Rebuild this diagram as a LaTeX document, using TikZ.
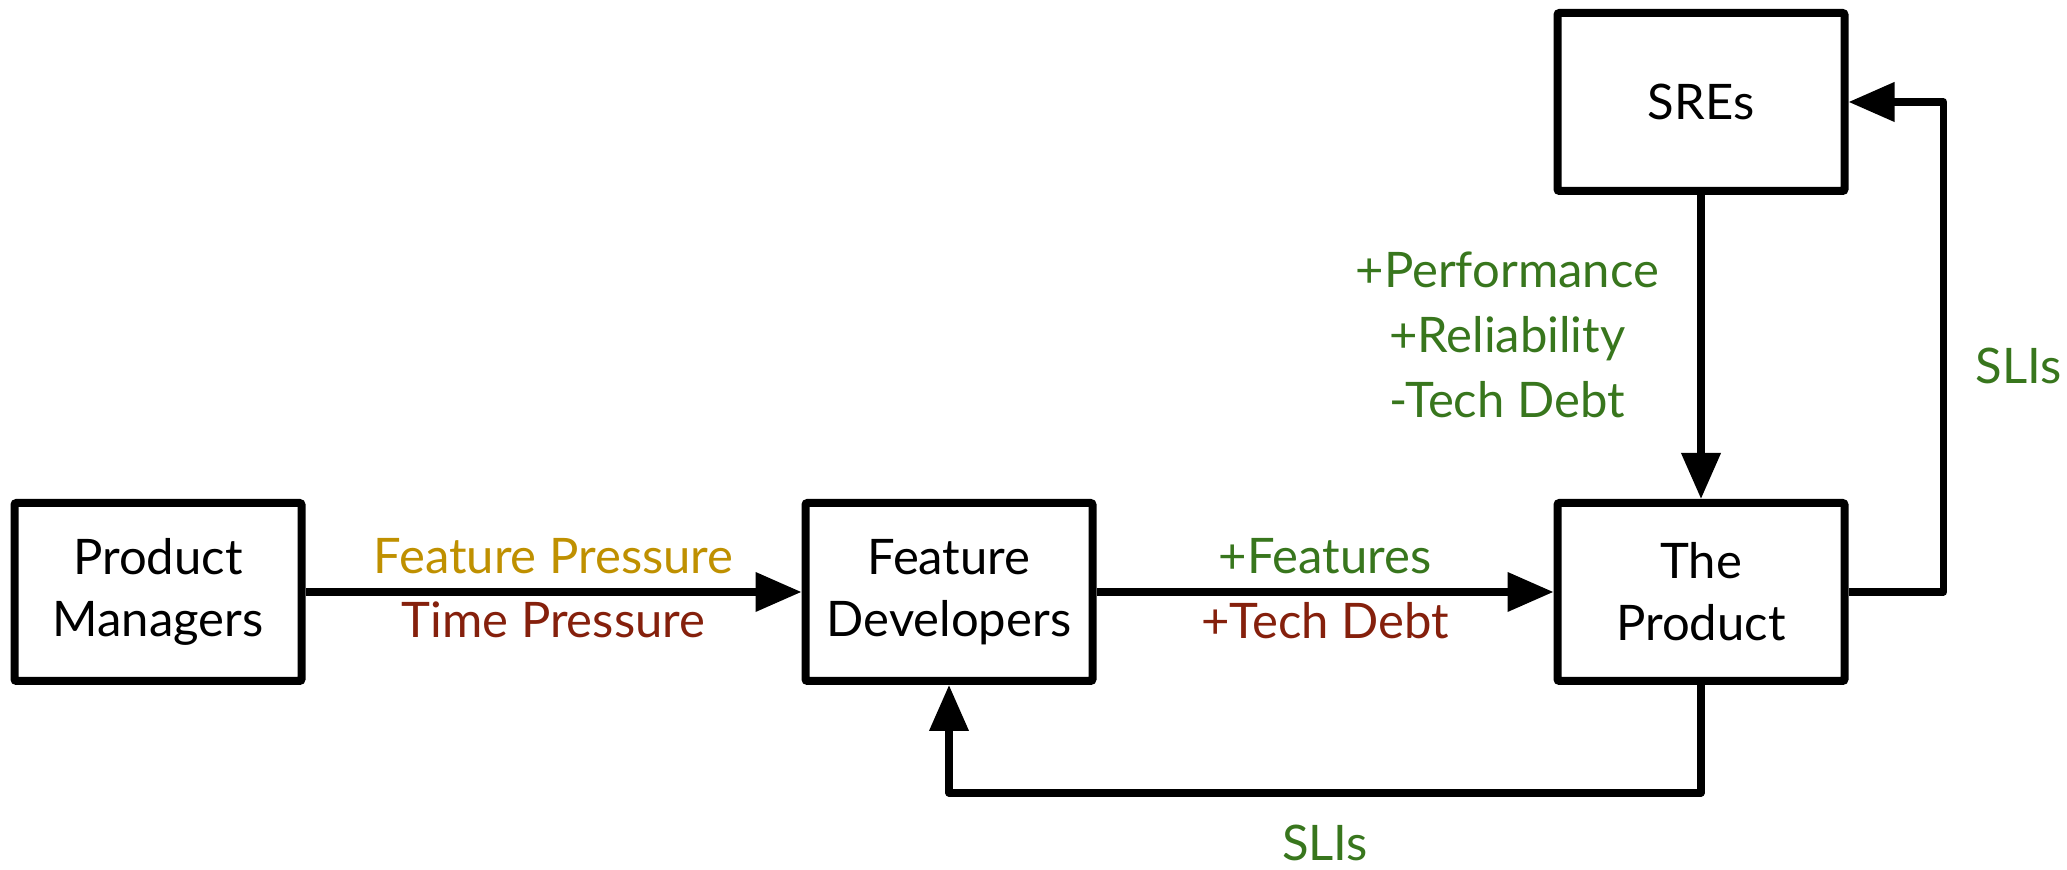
\documentclass[tikz,border=0pt]{standalone}
\usepackage{fontspec}
\setmainfont{Lato}
\usetikzlibrary{arrows.meta}
\definecolor{pressgold}{HTML}{BF9000}
\definecolor{pressred}{HTML}{85200C}
\definecolor{gaingreen}{HTML}{38761D}

\begin{document}
\begin{tikzpicture}[%
            x=0.5pt,
            y=0.5pt,
            >={Triangle[length=23pt,width=19pt]},
            ]
    \tikzset{team/.style = {draw, line width=4pt, rounded corners=1pt, minimum width=143.5pt, minimum height=89pt, align=center, font=\fontsize{24.5}{31}\selectfont}}
    \tikzset{flow/.style = {->, line width=3.6pt, line join=round}}
    \tikzset{lbl/.style = {font=\fontsize{24.5}{32.5}\selectfont, align=center}}

    \useasboundingbox (0,0) rectangle (2067,870);

    % Boxes
    \node[team] (pm) at (158,278) {Product\\Managers};
    \node[team] (fd) at (949,278) {Feature\\Developers};
    \node[team] (tp) at (1701,278) {The\\Product};
    \node[team] (sre) at (1701,768) {SREs};

    % Pressure and output
    \draw[flow] (pm) -- node[lbl, above=4pt, text=pressgold] (fpress) {Feature Pressure}
                        node[lbl, below, text=pressred] (tpress) {Time Pressure} (fd);
    \draw[flow] (fd) -- node[lbl, above=4pt, text=gaingreen] (feat) {+Features}
                        node[lbl, below, text=pressred] (debt) {+Tech Debt} (tp);

    % SRE work
    \draw[flow] (sre) -- node[lbl, left=16pt, yshift=6pt, text=gaingreen] (srework) {+Performance\\+Reliability\\-Tech Debt} (tp);

    % Feedback loops
    \draw[flow] (tp.east) -- ++(95,0) |- node[lbl, pos=0.25, right=11pt, yshift=-9.5pt, text=gaingreen] (slisre) {SLIs} (sre.east);
    \draw[flow] (tp.south) -- ++(0,-108) -| node[lbl, pos=0.25, below=11pt, text=gaingreen] (slifd) {SLIs} (fd.south);

    \end{tikzpicture}
\end{document}
